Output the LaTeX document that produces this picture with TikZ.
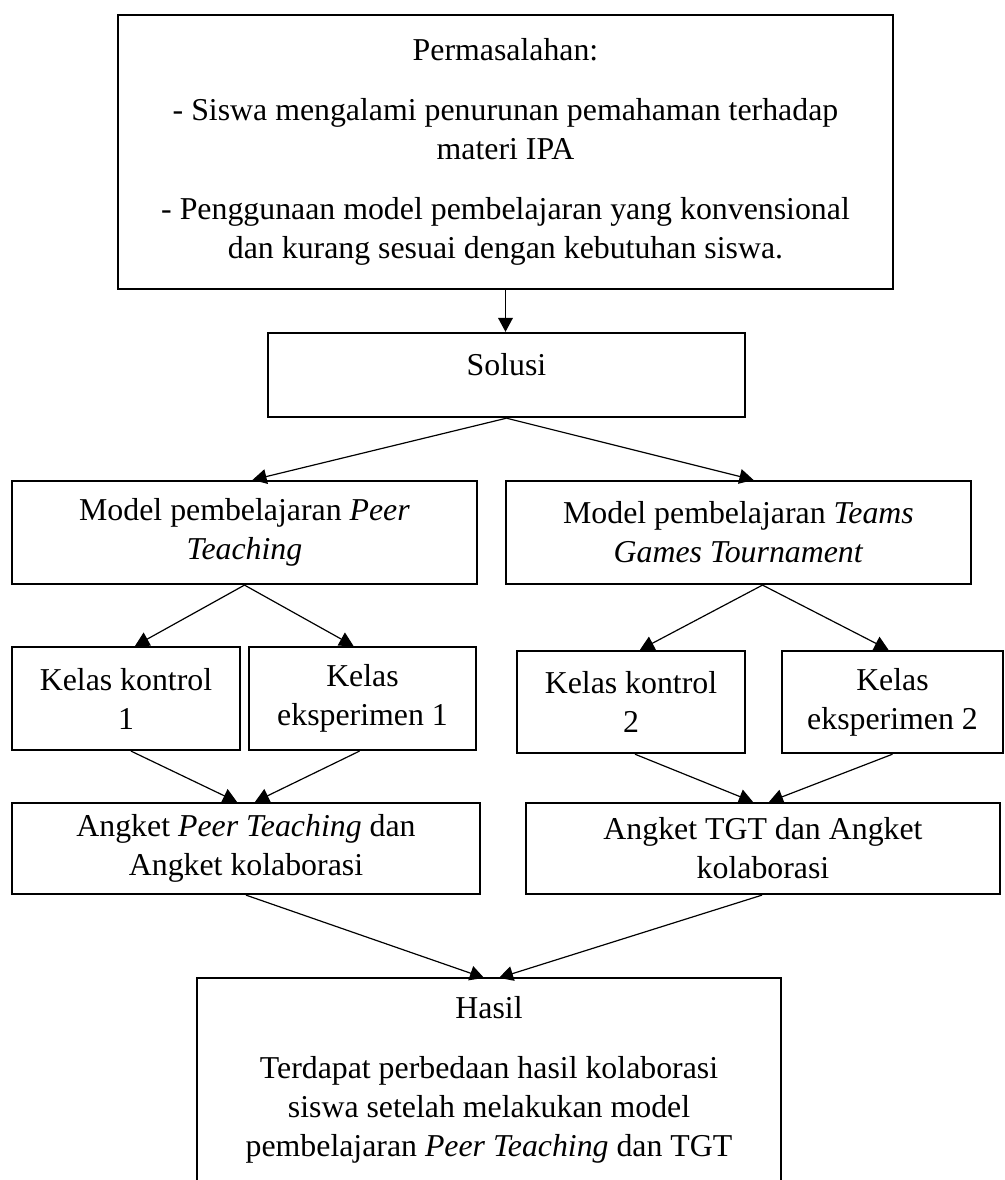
\documentclass[tikz,border=0pt]{standalone}
\usepackage{fontspec}
\setmainfont{Liberation Serif}
\usetikzlibrary{arrows.meta,calc}

\begin{document}
\begin{tikzpicture}[x=0.377pt, y=-0.377pt,
        box/.style={draw, line width=0.85pt, align=center, inner sep=0pt,
            font=\fontsize{12}{14.7}\selectfont},
        arrow/.style={line width=0.45pt, -{Triangle[length=5.3pt,width=5.6pt]}}]
        \useasboundingbox (0,0) rectangle (1005,1180);

        %% Problem and solution
        \node (masalah) [box, minimum width=292.2pt, minimum height=103.3pt] at (505.5,152)
            {Permasalahan:\\[8pt]
             - Siswa mengalami penurunan pemahaman terhadap\\ materi IPA\\[8pt]
             - Penggunaan model pembelajaran yang konvensional\\ dan kurang sesuai dengan kebutuhan siswa.};
        \node (solusi) [box, minimum width=179.8pt, minimum height=31.7pt, text depth=8pt] at (506.5,375) {Solusi};

        %% The two models
        \node (peer) [box, minimum width=175.3pt, minimum height=38.8pt] at (244.5,532.5)
            {Model pembelajaran \textit{Peer}\\ \textit{Teaching}};
        \node (tgt) [box, minimum width=175.3pt, minimum height=38.8pt] at (738.5,532.5)
            {Model pembelajaran \textit{Teams}\\ \textit{Games Tournament}};

        %% Classes
        \node (kontrol-1) [box, minimum width=86pt, minimum height=38.8pt] at (126,698.5) {Kelas kontrol\\ 1};
        \node (eksp-1) [box, minimum width=85.6pt, minimum height=38.8pt] at (362.5,698.5) {Kelas\\ eksperimen 1};
        \node (kontrol-2) [box, minimum width=86pt, minimum height=38.5pt] at (631,702) {Kelas kontrol\\ 2};
        \node (eksp-2) [box, minimum width=83.3pt, minimum height=38.5pt] at (892.5,702) {Kelas\\ eksperimen 2};

        %% Questionnaires
        \node (angket-peer) [box, minimum width=176.4pt, minimum height=34.3pt] at (246,848.5)
            {Angket \textit{Peer Teaching} dan\\ Angket kolaborasi};
        \node (angket-tgt) [box, minimum width=178.7pt, minimum height=34.3pt] at (763,848.5)
            {Angket TGT dan Angket\\ kolaborasi};

        %% Result (box runs off the bottom)
        \node (hasil) [box, draw=none, minimum width=219.4pt, minimum height=75.8pt] at (489,1079.5)
            {Hasil\\[8pt]
             Terdapat perbedaan hasil kolaborasi\\ siswa setelah melakukan model\\
             pembelajaran \textit{Peer Teaching} dan TGT};
        \draw [line width=0.85pt] (hasil.south west) -- (hasil.north west) -- (hasil.north east) -- (hasil.south east);

        %% Arrows
        \draw [arrow] (masalah.south) -- (masalah.south |- solusi.north);
        \draw [arrow] (solusi.south) -- ($(peer.north)+(8,0)$);
        \draw [arrow] (solusi.south) -- ($(tgt.north)+(15,0)$);

        \draw [arrow] (peer.south) -- ($(kontrol-1.north)+(9,0)$);
        \draw [arrow] (peer.south) -- ($(eksp-1.north)+(-9,0)$);
        \draw [arrow] ($(tgt.south)+(24,0)$) -- ($(kontrol-2.north)+(9,0)$);
        \draw [arrow] ($(tgt.south)+(24,0)$) -- ($(eksp-2.north)+(-4,0)$);

        \draw [arrow] ($(kontrol-1.south)+(5,0)$) -- ($(angket-peer.north)+(-9,0)$);
        \draw [arrow] ($(eksp-1.south)+(-3,0)$) -- ($(angket-peer.north)+(9,0)$);
        \draw [arrow] ($(kontrol-2.south)+(4,0)$) -- ($(angket-tgt.north)+(-10,0)$);
        \draw [arrow] (eksp-2.south) -- ($(angket-tgt.north)+(6,0)$);

        \draw [arrow] (angket-peer.south) -- ($(hasil.north)+(-5,0)$);
        \draw [arrow] ($(angket-tgt.south)+(-1,0)$) -- ($(hasil.north)+(10,0)$);
    \end{tikzpicture}
\end{document}
